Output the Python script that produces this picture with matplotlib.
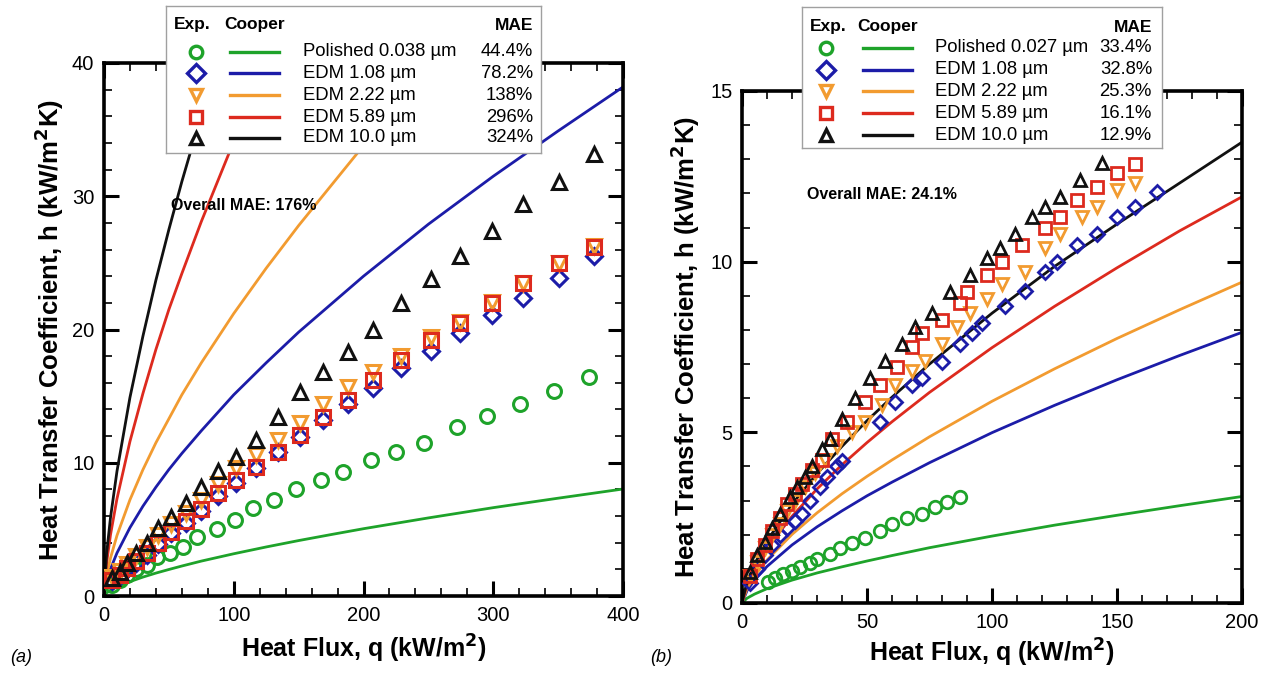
import numpy as np
import matplotlib
matplotlib.use("Agg")
import matplotlib.pyplot as plt
from matplotlib.ticker import MultipleLocator

plt.rcParams['font.family'] = ['Liberation Sans', 'DejaVu Sans']

W, H = 1270, 673

# colours for the five surfaces
c_pol = '#1ea32a'
c_108 = '#1c1ca8'
c_222 = '#f29b30'
c_589 = '#dd2a1e'
c_100 = '#111111'
colors = [c_pol, c_108, c_222, c_589, c_100]
markers = ['o', 'D', 'v', 's', '^']

# ---------------- panel (a) data ----------------
names_a = ['Polished 0.038 \u00b5m', 'EDM 1.08 \u00b5m', 'EDM 2.22 \u00b5m', 'EDM 5.89 \u00b5m', 'EDM 10.0 \u00b5m']
mae_a = ['44.4%', '78.2%', '138%', '296%', '324%']

q_pol_a = [6, 12, 18, 25, 33, 41, 51, 61, 72, 87, 101, 115, 131, 148, 167, 184, 206, 225, 247, 272, 295, 321, 347, 374]
h_pol_a = [0.8, 1.2, 1.6, 2.0, 2.3, 2.9, 3.2, 3.7, 4.4, 5.0, 5.7, 6.6, 7.2, 8.0, 8.7, 9.3, 10.2, 10.8, 11.5, 12.7, 13.5, 14.4, 15.4, 16.4]

q_edm_a = [6, 12, 18, 25, 33, 42, 52, 63, 75, 88, 102, 117, 134, 151, 169, 188, 207, 229, 252, 274, 299, 323, 351, 378]
h_108_a = [1.1, 1.5, 2.0, 2.5, 3.1, 3.9, 4.7, 5.5, 6.4, 7.5, 8.5, 9.6, 10.8, 11.9, 13.2, 14.4, 15.6, 17.1, 18.4, 19.7, 21.1, 22.4, 23.9, 25.5]
h_222_a = [1.4, 1.9, 2.4, 3.0, 3.7, 4.6, 5.4, 6.2, 7.2, 8.4, 9.6, 10.6, 11.7, 13.0, 14.4, 15.7, 16.8, 18.0, 19.4, 20.6, 22.1, 23.5, 25.0, 26.3]
h_589_a = [1.2, 1.6, 2.1, 2.6, 3.2, 4.0, 4.8, 5.6, 6.5, 7.7, 8.7, 9.7, 10.8, 12.1, 13.4, 14.7, 16.2, 17.7, 19.2, 20.5, 22.0, 23.5, 25.0, 26.2]
h_100_a = [1.35, 1.8, 2.5, 3.2, 4.0, 5.1, 5.9, 7.0, 8.2, 9.4, 10.4, 11.7, 13.4, 15.3, 16.8, 18.3, 20.0, 22.0, 23.8, 25.5, 27.4, 29.4, 31.1, 33.2]

# Cooper correlation curves
q_cp_a = [0, 2, 5, 10, 20, 30, 40, 50, 60, 75, 100, 125, 150, 175, 200, 250, 300, 350, 400]
cp_pol_a = [0, 0.23, 0.43, 0.68, 1.08, 1.42, 1.72, 1.99, 2.25, 2.62, 3.17, 3.68, 4.16, 4.61, 5.05, 5.86, 6.63, 7.34, 8.03]
cp_108_a = [0, 1.10, 2.03, 3.23, 5.13, 6.74, 8.17, 9.49, 10.7, 12.4, 15.1, 17.5, 19.8, 21.9, 24.0, 27.9, 31.5, 34.9, 38.2]
cp_222_a = [0, 1.54, 2.85, 4.54, 7.22, 9.48, 11.5, 13.3, 15.1, 17.5, 21.2, 24.6, 27.8, 30.8, 33.8, 39.2, 44.3, 49.1, 53.7]
cp_589_a = [0, 2.48, 4.59, 7.30, 11.6, 15.2, 18.5, 21.5, 24.2, 28.1, 34.1, 39.6, 44.8, 49.6, 54.3, 63.0, 71.3, 78.9, 86.4]
cp_100_a = [0, 3.18, 5.88, 9.36, 14.9, 19.5, 23.7, 27.5, 31.1, 36.1, 43.8, 50.8, 57.4, 63.6, 69.6, 80.8, 91.4, 101, 111]

# ---------------- panel (b) data ----------------
names_b = ['Polished 0.027 \u00b5m', 'EDM 1.08 \u00b5m', 'EDM 2.22 \u00b5m', 'EDM 5.89 \u00b5m', 'EDM 10.0 \u00b5m']
mae_b = ['33.4%', '32.8%', '25.3%', '16.1%', '12.9%']

q_pol_b = [10.5, 13, 16.5, 20, 23, 27, 30, 35, 39, 44, 49, 55, 60, 66, 72, 77, 82, 87]
h_pol_b = [0.62, 0.72, 0.85, 0.95, 1.05, 1.18, 1.3, 1.45, 1.6, 1.75, 1.9, 2.1, 2.3, 2.5, 2.6, 2.8, 2.97, 3.1]

q_108_b = [3, 6, 9, 12, 15, 18, 21, 24, 27, 31, 34, 38, 40, 55, 61, 68, 72, 80, 87, 92, 96, 105, 113, 121, 126, 134, 142, 150, 157, 166]
h_108_b = [0.6, 1.0, 1.4, 1.7, 2.0, 2.2, 2.4, 2.6, 3.0, 3.4, 3.7, 4.0, 4.15, 5.3, 5.9, 6.4, 6.6, 7.05, 7.6, 7.9, 8.2, 8.7, 9.15, 9.7, 10.0, 10.5, 10.8, 11.3, 11.6, 12.05]

q_222_b = [3, 6, 9, 12, 15, 18, 21, 25, 29, 33, 38, 44, 49, 56, 61, 68, 73, 80, 86, 91, 98, 104, 113, 121, 127, 136, 142, 150, 157]
h_222_b = [0.8, 1.2, 1.6, 2.0, 2.3, 2.7, 3.0, 3.4, 3.8, 4.2, 4.6, 5.0, 5.3, 5.8, 6.4, 6.8, 7.1, 7.6, 8.1, 8.5, 8.9, 9.35, 9.7, 10.4, 10.8, 11.3, 11.6, 12.1, 12.3]

q_589_b = [3, 6, 9, 12, 15, 18, 21, 24, 28, 32, 36, 42, 49, 55, 62, 68, 72, 80, 87, 90, 98, 104, 112, 121, 127, 134, 142, 150, 157]
h_589_b = [0.8, 1.3, 1.7, 2.1, 2.5, 2.9, 3.2, 3.5, 3.9, 4.2, 4.8, 5.3, 5.9, 6.4, 6.9, 7.5, 7.9, 8.3, 8.8, 9.1, 9.6, 10.0, 10.5, 11.0, 11.3, 11.8, 12.2, 12.6, 12.85]

q_100_b = [3, 6, 9, 12, 15, 19, 22, 25, 28, 32, 35, 40, 45, 51, 57, 64, 69, 76, 83, 91, 98, 103, 109, 116, 121, 127, 135, 144]
h_100_b = [0.9, 1.4, 1.8, 2.2, 2.6, 3.1, 3.4, 3.7, 4.0, 4.5, 4.8, 5.4, 6.0, 6.6, 7.1, 7.6, 8.1, 8.5, 9.1, 9.6, 10.1, 10.4, 10.8, 11.3, 11.6, 11.9, 12.4, 12.9]

q_cp_b = [0, 2, 5, 10, 20, 30, 40, 50, 60, 75, 100, 125, 150, 175, 200]
cp_pol_b = [0, 0.14, 0.26, 0.42, 0.67, 0.88, 1.06, 1.23, 1.39, 1.62, 1.96, 2.28, 2.57, 2.85, 3.12]
cp_108_b = [0, 0.36, 0.67, 1.07, 1.70, 2.23, 2.70, 3.14, 3.54, 4.11, 4.99, 5.79, 6.54, 7.25, 7.93]
cp_222_b = [0, 0.43, 0.79, 1.26, 2.01, 2.64, 3.20, 3.71, 4.19, 4.87, 5.91, 6.86, 7.75, 8.59, 9.40]
cp_589_b = [0, 0.54, 1.01, 1.60, 2.54, 3.34, 4.05, 4.70, 5.31, 6.17, 7.48, 8.69, 9.82, 10.9, 11.9]
cp_100_b = [0, 0.62, 1.14, 1.82, 2.89, 3.79, 4.59, 5.34, 6.03, 7.00, 8.49, 9.86, 11.1, 12.3, 13.5]

fig = plt.figure(figsize=(12.7, 6.73), dpi=100)


def px_axes(x0, y0, x1, y1, **kw):
    # axes placed by pixel box (top-left origin)
    return fig.add_axes([x0 / W, 1 - y1 / H, (x1 - x0) / W, (y1 - y0) / H], **kw)


def style_axes(ax, xmax, ymax, xmaj, xmin, ymaj, ymin):
    ax.set_xlim(0, xmax)
    ax.set_ylim(0, ymax)
    ax.xaxis.set_major_locator(MultipleLocator(xmaj))
    ax.xaxis.set_minor_locator(MultipleLocator(xmin))
    ax.yaxis.set_major_locator(MultipleLocator(ymaj))
    ax.yaxis.set_minor_locator(MultipleLocator(ymin))
    ax.tick_params(which='both', direction='in', top=True, right=True, labelsize=14.5)
    ax.tick_params(which='major', length=11, width=2.2, pad=7)
    ax.tick_params(which='minor', length=5.5, width=1.2)
    for s in ax.spines.values():
        s.set_linewidth(2.6)
    ax.set_xlabel('Heat Flux, q (kW/m$^\\mathbf{2}$)', fontsize=18, fontweight='bold')
    ax.set_ylabel('Heat Transfer Coefficient, h (kW/m$^\\mathbf{2}$K)', fontsize=18.5, fontweight='bold')


def key_box(x0, y0, x1, y1, names, maes, hdr_y, rows_y, mk_x, ln_x, lab_x, mae_x, ms):
    k = px_axes(x0, y0, x1, y1, zorder=10)
    k.set_xlim(x0, x1)
    k.set_ylim(y1, y0)
    k.set_xticks([])
    k.set_yticks([])
    for s in k.spines.values():
        s.set_color('#a0a0a0')
        s.set_linewidth(1.0)
    k.text(x0 + 8, hdr_y, 'Exp.', fontsize=12.5, fontweight='bold', va='center')
    k.text(ln_x[0] - 6, hdr_y, 'Cooper', fontsize=12.5, fontweight='bold', va='center')
    k.text(mae_x, hdr_y, 'MAE', fontsize=12.5, fontweight='bold', va='center', ha='right')
    for i in range(5):
        y = rows_y[i]
        k.plot([mk_x], [y], marker=markers[i], ms=ms, mfc='none', mec=colors[i], mew=2.4, ls='none')
        k.plot(ln_x, [y, y], color=colors[i], lw=2.4)
        k.text(lab_x, y, names[i], fontsize=13.3, va='center')
        k.text(mae_x, y, maes[i], fontsize=13.3, va='center', ha='right')


# ---------------- panel (a) ----------------
ax1 = px_axes(104, 63, 623, 596)
for cp, c in zip([cp_pol_a, cp_108_a, cp_222_a, cp_589_a, cp_100_a], colors):
    ax1.plot(q_cp_a, cp, color=c, lw=2.0, zorder=2)
exp_a = [(q_pol_a, h_pol_a), (q_edm_a, h_108_a), (q_edm_a, h_222_a), (q_edm_a, h_589_a), (q_edm_a, h_100_a)]
for (q, h), c, m in zip(exp_a, colors, markers):
    ax1.plot(q, h, ls='none', marker=m, ms=10 if m != 'D' else 8, mfc='none', mec=c, mew=2.2, zorder=3)
style_axes(ax1, 400, 40, 100, 20, 10, 2)
ax1.xaxis.labelpad = 6
ax1.yaxis.labelpad = 4
ax1.text(0.13, 0.725, 'Overall MAE: 176%', transform=ax1.transAxes, fontsize=11.5, fontweight='bold')

# ---------------- panel (b) ----------------
ax2 = px_axes(742, 91, 1242, 603)
for cp, c in zip([cp_pol_b, cp_108_b, cp_222_b, cp_589_b, cp_100_b], colors):
    ax2.plot(q_cp_b, cp, color=c, lw=2.0, zorder=2)
exp_b = [(q_pol_b, h_pol_b), (q_108_b, h_108_b), (q_222_b, h_222_b), (q_589_b, h_589_b), (q_100_b, h_100_b)]
for (q, h), c, m in zip(exp_b, colors, markers):
    ax2.plot(q, h, ls='none', marker=m, ms=9 if m != 'D' else 7, mfc='none', mec=c, mew=2.0, zorder=3)
style_axes(ax2, 200, 15, 50, 10, 5, 1)
ax2.xaxis.labelpad = 4
ax2.yaxis.labelpad = 6
ax2.text(0.13, 0.79, 'Overall MAE: 24.1%', transform=ax2.transAxes, fontsize=11.5, fontweight='bold')

# legends drawn as boxes above the plots
key_box(166, 6, 541, 153, names_a, mae_a, 25, [52, 73, 95, 117, 138],
        196, [230, 279], 303, 533, 9)
key_box(802, 7, 1162, 148, names_b, mae_b, 27, [48, 70, 91, 113, 135],
        826, [863, 912], 935, 1152, 9)

fig.text(10 / W, 1 - 658 / H, '(a)', fontsize=13, style='italic', va='center')
fig.text(650 / W, 1 - 658 / H, '(b)', fontsize=13, style='italic', va='center')

fig.savefig('out.png', dpi=100)
